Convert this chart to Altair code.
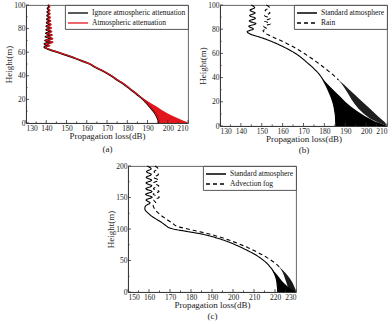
import altair as alt
import pandas as pd

SERIF = "Liberation Serif"

# ---------------- panel (a): attenuation on/off ----------------
a_heights = [100, 98.5, 97, 95.5, 94, 92.5, 91, 89.5, 88, 86.5, 85, 83.5, 82, 80.5, 79, 77.5,
             76, 74.5, 73, 71.5, 70, 68.5, 67, 65.5, 64.5, 63.5, 62, 60, 58, 56, 54, 52, 50,
             47, 44, 40, 36, 32, 28, 24, 20, 16, 12, 8, 4, 0]
a_ignore = [140.8, 141.4, 140.6, 141.5, 140.5, 141.6, 140.4, 141.7, 140.3, 141.9, 140.2, 142.1,
            140.0, 142.3, 139.9, 142.5, 139.8, 142.7, 139.6, 142.9, 139.4, 143.0, 139.1, 141.5,
            139.0, 139.6, 142.0, 145.5, 149.0, 152.5, 155.5, 158.5, 161.5, 164.5, 168.0, 172.0,
            175.5, 179.0, 182.0, 185.0, 187.8, 190.0, 192.0, 193.8, 195.0, 195.8]
a_atten = [141.2, 141.8, 141.0, 141.9, 140.9, 142.0, 140.8, 142.1, 140.7, 142.3, 140.6, 142.5,
           140.4, 142.7, 140.3, 142.9, 140.2, 143.1, 140.0, 143.3, 139.8, 143.4, 139.5, 141.9,
           139.3, 139.8, 142.2, 145.7, 149.2, 152.7, 155.7, 158.7, 161.7, 164.7, 168.2, 172.2,
           175.7, 179.2, 182.2, 185.2, 188.0, 190.2, 192.2, 194.0, 195.2, 196.0]
a_fan_h = [22, 20, 17, 14, 11, 8, 6, 4, 2, 1, 0]
a_fan_lo = [186.4, 187.8, 189.5, 191.0, 192.5, 193.8, 194.4, 195.0, 195.4, 195.6, 195.8]
a_fan_hi = [186.4, 188.8, 191.5, 194.5, 197.0, 200.0, 202.5, 205.0, 207.8, 209.2, 210.0]

# ---------------- panel (b): standard atmosphere vs rain ----------------
b_std_h = [100, 97.8, 95.6, 93.4, 91.2, 89, 86.8, 84.6, 82.4, 80.2, 78,
           76, 74, 72, 70, 67, 64, 61, 58, 55, 52, 49, 46, 43, 40, 36, 32, 28, 24, 20, 16, 12, 8, 4, 0]
b_std_v = [145.0, 146.6, 144.4, 146.8, 144.2, 147.0, 144.0, 147.2, 143.8, 146.0, 143.0,
           144.5, 148.0, 151.5, 154.5, 158.5, 162.0, 165.2, 167.8, 170.0, 172.0, 174.0, 175.8,
           177.4, 178.7, 180.0, 181.2, 182.2, 183.2, 184.0, 184.6, 185.0, 185.3, 185.4, 185.5]
b_std_fan_h = [40, 36, 32, 28, 24, 20, 16, 12, 8, 4, 2, 0]
b_std_fan_lo = [178.7, 180.0, 181.2, 182.2, 183.2, 184.0, 184.6, 185.0, 185.3, 185.4, 185.5, 185.5]
b_std_fan_hi = [178.7, 180.8, 183.0, 185.3, 187.8, 190.0, 192.8, 196.0, 199.5, 204.0, 207.0, 210.0]

b_rain_h = [100, 97.8, 95.6, 93.4, 91.2, 89, 86.8, 84.6, 82.4, 80.2, 79,
            77, 75, 73, 71, 68, 65, 62, 59, 56, 53, 50, 47, 44, 41, 38]
b_rain_v = [152.2, 153.8, 151.6, 154.0, 151.4, 154.2, 151.2, 154.3, 151.0, 152.5, 150.6,
            151.5, 153.5, 156.0, 158.6, 162.2, 165.5, 168.5, 171.2, 173.8, 176.2, 178.6, 180.8,
            183.0, 185.0, 186.8]
b_rain_fan_h = [38, 34, 30, 26, 22, 18, 14, 10, 6, 3, 0]
b_rain_fan_lo = [186.8, 188.6, 190.2, 191.6, 193.0, 194.6, 196.5, 199.0, 202.0, 205.5, 210.0]
b_rain_fan_hi = [186.8, 189.5, 192.0, 194.5, 197.0, 199.5, 202.0, 204.5, 207.0, 209.0, 210.0]

# ---------------- panel (c): standard atmosphere vs advection fog ----------------
c_std_h = [200, 195.5, 191, 186.5, 182, 177.5, 173, 168.5, 164, 159.5, 155, 150.5, 146, 141.5,
           137, 133, 129, 125, 121, 117, 113, 109, 105, 102.5, 101, 99, 97, 95, 93, 91, 88, 85,
           82, 78, 74, 70, 65, 60, 55, 50, 45, 40, 36, 30, 24, 18, 12, 6, 0]
c_std_v = [159.2, 161.0, 158.8, 161.1, 158.7, 161.2, 158.6, 161.3, 158.5, 161.4, 158.4, 161.5,
           158.6, 160.5, 158.5, 158.0, 158.4, 159.6, 161.0, 162.8, 164.8, 166.6, 168.2, 169.2,
           170.5, 173.0, 176.5, 180.0, 183.5, 186.5, 190.0, 193.0, 195.8, 199.0, 201.8, 204.4,
           207.4, 210.2, 212.6, 214.6, 216.3, 217.6, 218.6, 219.6, 220.3, 220.8, 221.0, 221.2, 221.3]
c_std_fan_h = [38, 33, 28, 23, 18, 13, 8, 4, 0]
c_std_fan_lo = [218.1, 219.0, 219.8, 220.4, 220.8, 221.0, 221.1, 221.2, 221.3]
c_std_fan_hi = [218.1, 219.5, 220.8, 222.0, 223.2, 224.6, 226.3, 228.0, 230.0]

c_fog_h = [200, 195.5, 191, 186.5, 182, 177.5, 173, 168.5, 164, 159.5, 155, 150.5, 146, 141.5,
           138, 134, 130, 126, 122, 118, 114, 110, 107, 105, 103, 101, 98, 95, 92, 89, 86, 82,
           78, 74, 70, 65, 60, 55, 50, 45, 40]
c_fog_v = [162.8, 164.4, 162.4, 164.5, 162.3, 164.6, 162.2, 164.7, 162.1, 164.8, 162.0, 164.9,
           162.3, 163.2, 162.0, 162.3, 163.0, 164.2, 165.6, 167.2, 169.0, 170.8, 172.0, 172.8,
           174.5, 177.2, 181.0, 185.0, 188.8, 192.0, 195.0, 198.4, 201.6, 204.6, 207.4, 210.5,
           213.4, 216.0, 218.3, 220.4, 222.0]
c_fog_fan_h = [40, 35, 30, 25, 20, 15, 10, 5, 0]
c_fog_fan_lo = [222.0, 223.0, 223.8, 224.4, 224.9, 225.4, 225.9, 226.4, 227.0]
c_fog_fan_hi = [222.0, 223.6, 225.0, 226.3, 227.4, 228.3, 229.0, 229.6, 230.0]


def curves(*series):
    rows = []
    for name, hs, vs in series:
        for i, (hh, vv) in enumerate(zip(hs, vs)):
            rows.append({"series": name, "h": hh, "v": vv, "i": i})
    return pd.DataFrame(rows)


class Frame:
    """Shared scales and axes for all layers of one panel."""

    def __init__(self, xdom, xticks, ydom, yticks, caption, line_h, height):
        self.xs = alt.Scale(domain=xdom, nice=False, zero=False)
        self.ys = alt.Scale(domain=ydom, nice=False, zero=False)
        self.xa = alt.Axis(values=xticks, title=["Propagation loss(dB)", caption],
                           titleLineHeight=line_h, format="d")
        self.ya = alt.Axis(values=yticks, title="Height(m)", format="d")
        self.xticks, self.yticks, self.height = xticks, yticks, height

    def X(self, f):
        return alt.X(f, scale=self.xs, axis=self.xa)

    def Y(self, f):
        return alt.Y(f, scale=self.ys, axis=self.ya)

    def fan(self, hs, lo, hi, color, opacity=1.0):
        df = pd.DataFrame({"h": hs, "lo": lo, "hi": hi})
        return alt.Chart(df).mark_area(orient="horizontal", color=color, opacity=opacity).encode(
            y=self.Y("h:Q"), x=self.X("lo:Q"), x2="hi:Q")

    def ticks(self):
        """Short inward ticks along the bottom and left frame edges."""
        def mids(vals):
            return [(p + q) / 2 for p, q in zip(vals[:-1], vals[1:])]
        h = self.height
        out = []
        for vals, ln in ((self.xticks, 3), (mids(self.xticks), 1.6)):
            out.append(alt.Chart(pd.DataFrame({"v": vals})).mark_rule(
                color="#333", strokeWidth=0.8).encode(
                x=self.X("v:Q"), y=alt.value(h), y2=alt.value(h - ln)))
        for vals, ln in ((self.yticks, 3), (mids(self.yticks), 1.6)):
            out.append(alt.Chart(pd.DataFrame({"h": vals})).mark_rule(
                color="#333", strokeWidth=0.8).encode(
                y=self.Y("h:Q"), x=alt.value(0), x2=alt.value(ln)))
        return out


def legend(**kw):
    # a long horizontal stroke drawn on a 10px layout cell
    return alt.Legend(title=None, orient="top-right", offset=0, padding=2,
                      strokeColor="#444", fillColor="white", symbolType="M-2,0H2",
                      symbolSize=100, symbolStrokeWidth=1.3, symbolOffset=5,
                      labelFont=SERIF, labelFontSize=7.5, labelColor="#111",
                      rowPadding=0, labelOffset=8, **kw)


LINE = dict(interpolate="catmull-rom")

# panel (a): black drawn wide underneath, red on top
fa = Frame([130, 210], [130, 140, 150, 160, 170, 180, 190, 200, 210], [0, 100],
           [0, 20, 40, 60, 80, 100], "(a)", 13, 118)
a_names = ["Ignore atmospheric attenuation", "Atmospheric attenuation"]
a_black = alt.Chart(curves((a_names[0], a_heights, a_ignore))).mark_line(
    strokeWidth=1.8, **LINE).encode(
    x=fa.X("v:Q"), y=fa.Y("h:Q"), order="i:Q",
    color=alt.Color("series:N", scale=alt.Scale(domain=a_names, range=["black", "#e3161c"]),
                    legend=legend()))
a_red = alt.Chart(curves((a_names[1], a_heights, a_atten))).mark_line(
    strokeWidth=1.1, **LINE).encode(
    x=fa.X("v:Q"), y=fa.Y("h:Q"), order="i:Q",
    color=alt.Color("series:N", scale=alt.Scale(domain=a_names, range=["black", "#e3161c"]),
                    legend=legend()))
panel_a = alt.layer(fa.fan(a_fan_h, a_fan_lo, a_fan_hi, "#e3161c"), a_black, a_red,
                    *fa.ticks()).properties(width=162, height=118)

# panel (b)
fb = Frame([130, 210], [130, 140, 150, 160, 170, 180, 190, 200, 210], [0, 100],
           [0, 20, 40, 60, 80, 100], "(b)", 11, 121)
b_names = ["Standard atmosphere", "Rain"]
b_lines = alt.Chart(curves((b_names[0], b_std_h, b_std_v),
                           (b_names[1], b_rain_h, b_rain_v))).mark_line(
    strokeWidth=1.1, color="black", **LINE).encode(
    x=fb.X("v:Q"), y=fb.Y("h:Q"), order="i:Q",
    strokeDash=alt.StrokeDash("series:N", scale=alt.Scale(domain=b_names, range=[[1, 0], [4, 3]]),
                              legend=legend(symbolStrokeColor="black")))
panel_b = alt.layer(b_lines, fb.fan(b_std_fan_h, b_std_fan_lo, b_std_fan_hi, "black"),
                    fb.fan(b_rain_fan_h, b_rain_fan_lo, b_rain_fan_hi, "black", 0.88),
                    *fb.ticks()).properties(width=167, height=121)

# panel (c)
fc = Frame([150, 230], [150, 160, 170, 180, 190, 200, 210, 220, 230], [0, 200],
           [0, 50, 100, 150, 200], "(c)", 11, 126)
c_names = ["Standard atmosphere", "Advection fog"]
c_lines = alt.Chart(curves((c_names[0], c_std_h, c_std_v),
                           (c_names[1], c_fog_h, c_fog_v))).mark_line(
    strokeWidth=1.1, color="black", **LINE).encode(
    x=fc.X("v:Q"), y=fc.Y("h:Q"), order="i:Q",
    strokeDash=alt.StrokeDash("series:N", scale=alt.Scale(domain=c_names, range=[[1, 0], [4, 3]]),
                              legend=legend(symbolStrokeColor="black")))
panel_c = alt.layer(c_lines, fc.fan(c_std_fan_h, c_std_fan_lo, c_std_fan_hi, "black"),
                    fc.fan(c_fog_fan_h, c_fog_fan_lo, c_fog_fan_hi, "black", 0.9),
                    *fc.ticks()).properties(width=168, height=126)

spacer = alt.Chart(pd.DataFrame({"s": [0]})).mark_point(opacity=0).encode(
    x=alt.X("s:Q", axis=None), y=alt.Y("s:Q", axis=None)).properties(
    width=79, height=1, view=alt.ViewBackground(stroke="transparent"))

indep = dict(color="independent", strokeDash="independent")
top = alt.hconcat(panel_a, panel_b, spacing=9).resolve_scale(**indep).resolve_legend(**indep)
bottom = alt.hconcat(spacer, panel_c, spacing=0).resolve_scale(**indep).resolve_legend(**indep)

chart = alt.vconcat(top, bottom, spacing=6).resolve_scale(**indep).resolve_legend(
    **indep).properties(
    padding={"left": 4, "top": 0, "right": 0, "bottom": 0},
    background="white").configure_view(stroke="#555", strokeWidth=0.9).configure_axis(
    labelFont=SERIF, labelFontSize=7.5, labelColor="#222", labelPadding=1,
    titleFont=SERIF, titleFontSize=9, titleFontWeight="normal", titleColor="#222",
    titlePadding=0, ticks=False, grid=False, domainColor="#333", domainWidth=0.9
).configure_legend(strokeColor="#444", fillColor="white", strokeWidth=0.9)

chart.save("out.html", embed_options={"renderer": "svg", "actions": False})
